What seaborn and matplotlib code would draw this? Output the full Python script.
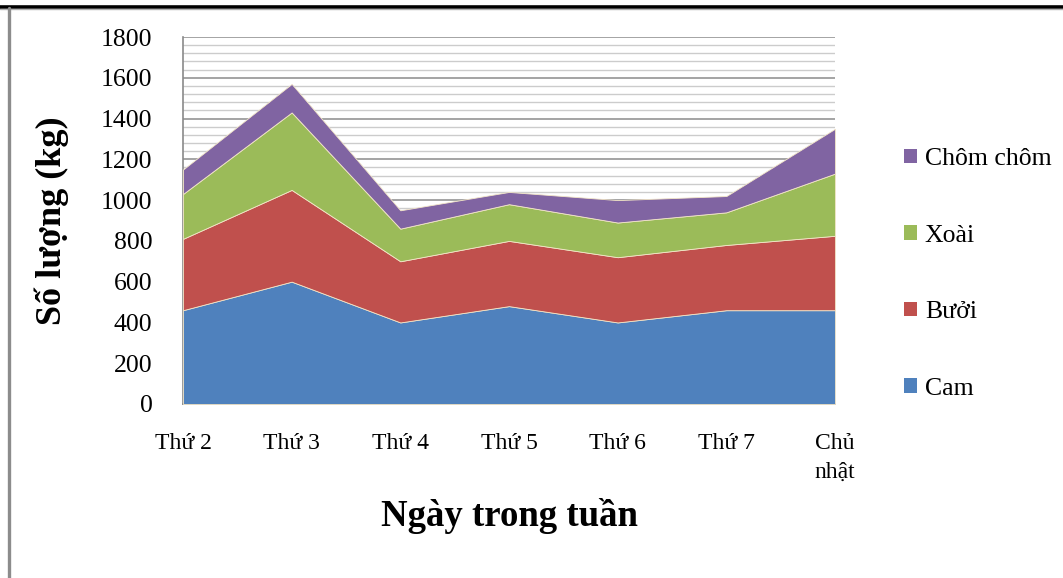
import matplotlib
matplotlib.use("Agg")
import matplotlib.pyplot as plt
from matplotlib.lines import Line2D
from matplotlib.patches import Patch
from matplotlib.ticker import MultipleLocator
import numpy as np
import pandas as pd
import seaborn as sns

# Daily fruit quantities (kg)
days = ["Thứ 2", "Thứ 3", "Thứ 4", "Thứ 5", "Thứ 6", "Thứ 7", "Chủ\nnhật"]
cam = [460, 600, 400, 480, 400, 460, 460]
buoi = [350, 450, 300, 320, 320, 320, 365]
xoai = [220, 380, 160, 180, 170, 160, 305]
chom_chom = [120, 140, 90, 60, 110, 80, 220]

series_names = ["Cam", "Bưởi", "Xoài", "Chôm chôm"]
colors = ["#4F81BD", "#C0504D", "#9BBB59", "#8064A2"]

df = pd.DataFrame({"Ngày": days, "Cam": cam, "Bưởi": buoi,
                   "Xoài": xoai, "Chôm chôm": chom_chom})

sns.set_theme(style="white")
plt.rcParams["font.family"] = ["Liberation Serif", "DejaVu Serif"]
plt.rcParams["text.color"] = "black"
plt.rcParams["axes.labelcolor"] = "black"

fig = plt.figure(figsize=(10.63, 5.78), dpi=100)
ax = fig.add_axes([183 / 1063, 1 - 404 / 578, (835 - 183) / 1063, (404 - 37) / 578])

x = np.arange(len(days))
ax.stackplot(x, *[df[name].values for name in series_names],
             colors=colors, labels=series_names, zorder=3,
             edgecolor="#f3e6c8", linewidth=0.6)

ax.set_xlim(0, len(days) - 1)
ax.set_ylim(0, 1800)
ax.yaxis.set_major_locator(MultipleLocator(200))
ax.yaxis.set_minor_locator(MultipleLocator(40))
ax.grid(which="major", axis="y", color="#959595", linewidth=1.2, zorder=0)
ax.grid(which="minor", axis="y", color="#cccccc", linewidth=1.0, zorder=0)
ax.grid(which="major", axis="x", visible=False)
ax.set_axisbelow(True)

ax.set_xticks(x)
ax.set_xticklabels(days, fontsize=17, linespacing=1.45, va="top")
ax.tick_params(axis="both", which="both", length=0, colors="black")
ax.tick_params(axis="x", pad=21, labelsize=17)
ax.tick_params(axis="y", pad=22, labelsize=18.5)
for sp in ["top", "right"]:
    ax.spines[sp].set_visible(False)
for sp in ["left", "bottom"]:
    ax.spines[sp].set_color("#8a8a8a")
    ax.spines[sp].set_linewidth(1.2)

ax.set_ylabel("Số lượng (kg)", fontsize=26, fontweight="bold",
              va="center", ha="center")
ax.yaxis.set_label_coords((52 - 183) / 652, 0.5)
ax.set_xlabel("Ngày trong tuần", fontsize=26.5, fontweight="bold",
              va="center", ha="center")
ax.xaxis.set_label_coords(0.5, (404 - 516) / 367)

handles = [Patch(facecolor=c, edgecolor="none") for c in colors][::-1]
leg = fig.legend(handles, series_names[::-1], loc="upper left",
                 bbox_to_anchor=(894 / 1063, 1 - 138 / 578),
                 frameon=False, fontsize=18.5, handlelength=0.5,
                 handleheight=0.5, handletextpad=0.3, labelspacing=2.12,
                 borderaxespad=0)

# Surrounding border of the chart box
fig.add_artist(Line2D([0, 1], [1 - 6.5 / 578] * 2, color="black",
                      linewidth=2.6, transform=fig.transFigure))
fig.add_artist(Line2D([0, 1], [1 - 9 / 578] * 2, color="#b0b0b0",
                      linewidth=1.0, transform=fig.transFigure))
fig.add_artist(Line2D([9 / 1063] * 2, [0, 1 - 8 / 578], color="#8c8c8c",
                      linewidth=2.4, transform=fig.transFigure))

fig.savefig("out.png", dpi=100, facecolor="white")
